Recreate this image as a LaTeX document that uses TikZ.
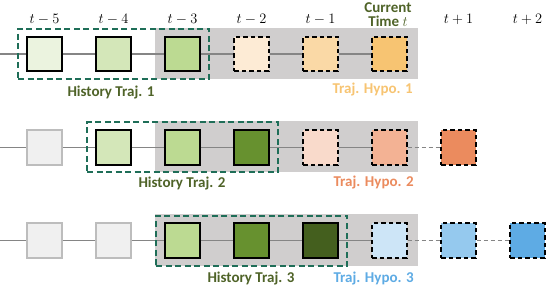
\documentclass[tikz,border=0pt]{standalone}
\usepackage{fontspec}
\setmainfont{Carlito}
\usepackage{tikz}
\usetikzlibrary{positioning}
\definecolor{gA}{HTML}{EBF3DF}
\definecolor{gB}{HTML}{D4E7B9}
\definecolor{gC}{HTML}{BCDA92}
\definecolor{gD}{HTML}{67912F}
\definecolor{gE}{HTML}{445F1E}
\definecolor{greyfill}{HTML}{F0F0F0}
\definecolor{greyedge}{HTML}{BDBDBD}
\definecolor{oA}{HTML}{FDEBD5}
\definecolor{oB}{HTML}{FAD9A6}
\definecolor{oC}{HTML}{F7C472}
\definecolor{sA}{HTML}{F9DACB}
\definecolor{sB}{HTML}{F3B294}
\definecolor{sC}{HTML}{EB8B5E}
\definecolor{bA}{HTML}{CDE5F7}
\definecolor{bB}{HTML}{95C9EE}
\definecolor{bC}{HTML}{5EABE4}
\definecolor{bggrey}{HTML}{D0CECE}
\definecolor{framegreen}{HTML}{1F6E58}
\definecolor{histgreen}{HTML}{4F6328}
\definecolor{linegrey}{HTML}{858585}

\begin{document}
\begin{tikzpicture}[x=1pt,y=-1pt,
  font=\fontsize{15}{15}\selectfont,
  past/.style={draw=black,line width=1.6pt,minimum size=34.5pt,inner sep=0pt},
  gone/.style={draw=greyedge,fill=greyfill,line width=1.6pt,minimum size=34.5pt,inner sep=0pt},
  hypo/.style={draw=black,line width=1.6pt,dash pattern=on 4.5pt off 3pt,minimum size=34.5pt,inner sep=0pt},
  shade/.style={fill=bggrey,minimum width=263pt,minimum height=51pt,inner sep=0pt},
  window/.style={draw=framegreen,line width=2pt,dash pattern=on 6pt off 3.5pt,minimum width=191pt,minimum height=50pt,inner sep=0pt},
  tlabel/.style={anchor=base,inner sep=0pt},
  histlbl/.style={anchor=base,inner sep=0pt,font=\bfseries\fontsize{15}{15}\selectfont,text=histgreen},
  hypolbl/.style={anchor=base east,inner sep=0pt,font=\bfseries\fontsize{15}{15}\selectfont},
  conn/.style={draw=linegrey,line width=1.6pt},
  fut/.style={draw=linegrey,line width=1.6pt,dash pattern=on 4pt off 3pt}
]
\useasboundingbox (0,0) rectangle (548,288);

% time axis
\node[tlabel] (tm5) at (44.5,23.5) {$t-5$};
\node[tlabel] (tm4) at (113.5,23.5) {$t-4$};
\node[tlabel] (tm3) at (182.5,23.5) {$t-3$};
\node[tlabel] (tm2) at (251.5,23.5) {$t-2$};
\node[tlabel] (tm1) at (320.5,23.5) {$t-1$};
\node[anchor=south,inner sep=0pt,align=center,font=\bfseries\fontsize{15}{14.5}\selectfont,text=histgreen] (now) at (388,27) {Current\\Time $t$};
\node[tlabel] (tp1) at (458.5,23.5) {$t+1$};
\node[tlabel] (tp2) at (527.5,23.5) {$t+2$};

% row 1
\node[shade] (bg1) at (286.5,53.5) {};
\coordinate (l1) at (0,54);
\node[past,fill=gA] (a1) at (44.5,54) {};
\node[past,fill=gB] (a2) at (113.5,54) {};
\node[past,fill=gC] (a3) at (182.5,54) {};
\node[hypo,fill=oA] (a4) at (251.5,54) {};
\node[hypo,fill=oB] (a5) at (320.5,54) {};
\node[hypo,fill=oC] (a6) at (389.5,54) {};
\draw[conn] (l1) -- (a1) -- (a2) -- (a3) -- (a4) -- (a5) -- (a6);
\node[window] (f1) at (113.5,54) {};
\node[histlbl] (h1) at (111,97) {History Traj. 1};
\node[hypolbl,text=oC] (p1) at (413,93.5) {Traj. Hypo. 1};

% row 2
\node[shade] (bg2) at (286.5,147) {};
\coordinate (l2) at (0,147.5);
\node[gone] (b1) at (44.5,147.5) {};
\node[past,fill=gB] (b2) at (113.5,147.5) {};
\node[past,fill=gC] (b3) at (182.5,147.5) {};
\node[past,fill=gD] (b4) at (251.5,147.5) {};
\node[hypo,fill=sA] (b5) at (320.5,147.5) {};
\node[hypo,fill=sB] (b6) at (389.5,147.5) {};
\node[hypo,fill=sC] (b7) at (458.5,147.5) {};
\draw[conn] (l2) -- (b1) -- (b2) -- (b3) -- (b4) -- (b5) -- (b6);
\draw[fut] (b6) -- (b7);
\node[window] (f2) at (182.5,147.5) {};
\node[histlbl] (h2) at (182,187.5) {History Traj. 2};
\node[hypolbl,text=sC] (p2) at (414,186.5) {Traj. Hypo. 2};

% row 3
\node[shade] (bg3) at (286.5,240) {};
\coordinate (l3) at (0,240.5);
\node[gone] (c1) at (44.5,240.5) {};
\node[gone] (c2) at (113.5,240.5) {};
\node[past,fill=gC] (c3) at (182.5,240.5) {};
\node[past,fill=gD] (c4) at (251.5,240.5) {};
\node[past,fill=gE] (c5) at (320.5,240.5) {};
\node[hypo,fill=bA] (c6) at (389.5,240.5) {};
\node[hypo,fill=bB] (c7) at (458.5,240.5) {};
\node[hypo,fill=bC] (c8) at (527.5,240.5) {};
\draw[conn] (l3) -- (c1) -- (c2) -- (c3) -- (c4) -- (c5) -- (c6);
\draw[fut] (c6) -- (c7) -- (c8);
\node[window] (f3) at (251.5,241) {};
\node[histlbl] (h3) at (251,282.5) {History Traj. 3};
\node[hypolbl,text=bC] (p3) at (414,282.5) {Traj. Hypo. 3};

\end{tikzpicture}
\end{document}
